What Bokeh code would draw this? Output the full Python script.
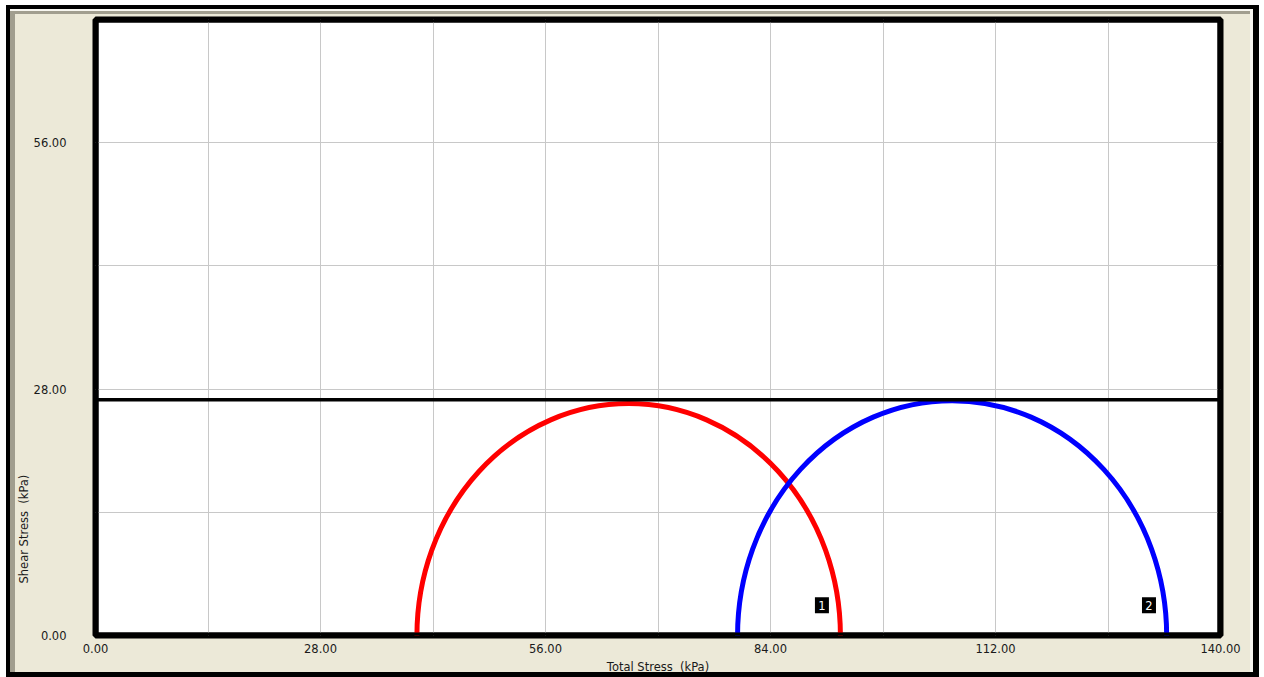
from bokeh.plotting import figure
from bokeh.models import FixedTicker, PrintfTickFormatter, Title
from bokeh.core.properties import value
from bokeh.embed import file_html
from bokeh.resources import INLINE

# Mohr circles (kPa): minor and major principal total stresses
circle_ids = ["1", "2"]
sigma3 = [40.0, 79.9]
sigma1 = [92.7, 133.3]
circle_colors = ["#FF0000", "#0000FF"]

# Undrained strength envelope (horizontal, phi = 0)
envelope_c = 26.8

# Circle number tags
tag_x = [90.4, 131.1]
tag_y = [3.45, 3.45]

x_range = (0, 140)
y_range = (0, 70)
x_ticks = [0, 28, 56, 84, 112, 140]
y_ticks = [0, 28, 56]
x_grid = [14, 28, 42, 56, 70, 84, 98, 112, 126]
y_grid = [14, 28, 42, 56]

FONT = "DejaVu Sans"
FONT_SIZE = "11.5px"
TEXT_COLOR = "#1a1a1a"
BEIGE = "#ECE9D8"

p = figure(width=1264, height=677, x_range=x_range, y_range=y_range,
           output_backend="svg", toolbar_location=None,
           min_border_left=95, min_border_right=44,
           min_border_top=19, min_border_bottom=42)

# dialog-style chrome behind a transparent border area
p.border_fill_color = None
p.styles = {
    "background-color": BEIGE,
    "box-shadow": ", ".join([
        "inset 6px 5px 0 0 white",
        "inset -5px 0 0 0 white",
        "inset 10px 9px 0 0 black",
        "inset -11px -5px 0 0 black",
        "inset 10px 11px 0 0 #F7F6F0",
        "inset -14px 0 0 0 #F7F6F0",
        "inset 15px 14px 0 0 #A19E8F",
    ]),
}

p.background_fill_color = "white"
p.outline_line_color = "black"
p.outline_line_width = 6

# grid
p.xgrid.ticker = FixedTicker(ticks=x_grid)
p.ygrid.ticker = FixedTicker(ticks=y_grid)
for g in (p.xgrid, p.ygrid):
    g.grid_line_color = "#C8C8C8"
    g.grid_line_width = 1

# axes
for ax in (p.xaxis[0], p.yaxis[0]):
    ax.formatter = PrintfTickFormatter(format="%.2f")
    ax.axis_line_color = None
    ax.major_tick_line_color = None
    ax.minor_tick_line_color = None
    ax.major_tick_out = 0
    ax.major_tick_in = 0
    ax.major_label_text_font = FONT
    ax.major_label_text_font_size = FONT_SIZE
    ax.major_label_text_color = TEXT_COLOR
    ax.axis_label_text_font = FONT
    ax.axis_label_text_font_size = FONT_SIZE
    ax.axis_label_text_font_style = "normal"
    ax.axis_label_text_color = TEXT_COLOR

p.xaxis.ticker = FixedTicker(ticks=x_ticks)
p.yaxis.ticker = FixedTicker(ticks=y_ticks)
p.xaxis.major_label_standoff = 8
p.yaxis.major_label_standoff = 29
p.xaxis.axis_label = "Total Stress\u00a0 (kPa)"
p.xaxis.axis_label_standoff = 4

# y title, anchored near the lower end of the left side
p.add_layout(Title(text="Shear Stress\u00a0 (kPa)", align="left", offset=52,
                   standoff=0, text_font=FONT, text_font_size=FONT_SIZE,
                   text_font_style="normal", text_color=TEXT_COLOR), "left")

# Mohr circles: centre (s1+s3)/2, diameter s1-s3, drawn in data space
centers = [(a + b) / 2 for a, b in zip(sigma3, sigma1)]
diam = [b - a for a, b in zip(sigma3, sigma1)]
p.ellipse(x=centers, y=[0, 0], width=diam, height=diam,
          fill_color=None, line_color=circle_colors, line_width=5)

# strength envelope
p.line(x=list(x_range), y=[envelope_c, envelope_c], line_color="black", line_width=3.5)

# circle tags
p.rect(x=tag_x, y=tag_y, width=14, height=16, width_units="screen",
       height_units="screen", fill_color="black", line_color=None)
p.text(x=tag_x, y=tag_y, text=circle_ids, text_color="white",
       text_align="center", text_baseline="middle",
       text_font=value(FONT), text_font_size=value(FONT_SIZE))

# heavy frame edge repeated above the glyphs (inner half of the outline)
p.quad(left=[x_range[0]], right=[x_range[1]], bottom=[y_range[0]], top=[y_range[1]],
       fill_color=None, line_color="black", line_width=6)

open("out.html", "w").write(file_html(p, INLINE))
